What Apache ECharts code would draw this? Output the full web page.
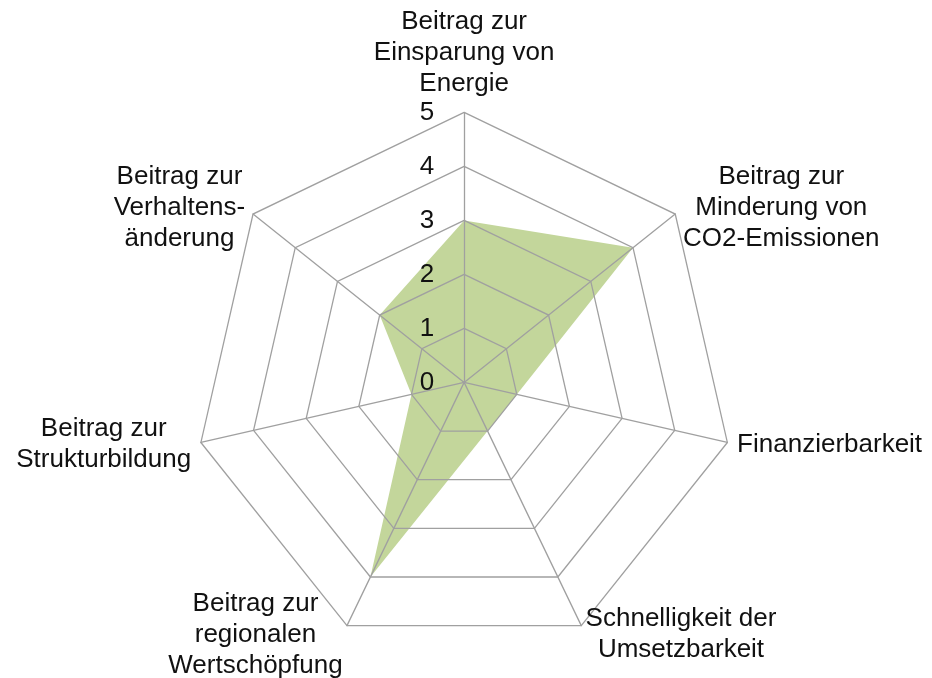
<!DOCTYPE html>
<html>
<head>
<meta charset="utf-8">
<script src="https://cdn.jsdelivr.net/npm/echarts@6/dist/echarts.min.js"></script>
<style>
  html, body { margin: 0; padding: 0; background: #ffffff; }
  #chart { width: 932px; height: 678px; }
</style>
</head>
<body>
<div id="chart"></div>
<script>
// Criteria, listed counter-clockwise from the top axis (ECharts radar order)
const criteria = [
  'Beitrag zur\nEinsparung von\nEnergie',
  'Beitrag zur\nVerhaltens-\nänderung',
  'Beitrag zur\nStrukturbildung',
  'Beitrag zur\nregionalen\nWertschöpfung',
  'Schnelligkeit der\nUmsetzbarkeit',
  'Finanzierbarkeit',
  'Beitrag zur\nMinderung von\nCO2-Emissionen'
];
// Rating of the measure on each criterion (0–5)
const ratings = [3, 2, 1, 4, 1, 1, 4];
const scaleMax = 5;
const scaleSteps = 5;

const font = 'Liberation Sans, Arial, sans-serif';
const textColor = '#111111';
const gridColor = '#a0a0a0';

const indicator = criteria.map((name, i) => {
  const ind = { name: name, min: 0, max: scaleMax };
  if (i === 0) {
    // value labels 0..5 only along the first (top) axis
    ind.axisLabel = {
      show: true,
      color: textColor,
      fontSize: 26,
      fontFamily: font,
      margin: 30
    };
  }
  return ind;
});

const chart = echarts.init(document.getElementById('chart'));
chart.setOption({
  backgroundColor: '#ffffff',
  animation: false,
  radar: {
    z: 3, // grid and value labels drawn over the filled area
    center: ['49.8%', '56.4%'],
    radius: 270,
    startAngle: 90,
    splitNumber: scaleSteps,
    shape: 'polygon',
    indicator: indicator,
    nameGap: 10,
    axisName: {
      color: textColor,
      fontSize: 26,
      fontFamily: font,
      lineHeight: 31,
      formatter: v => v.split('\n').map(l => '{c|' + l + '}').join('\n'),
      rich: {
        c: { align: 'center', fontSize: 26, fontFamily: font, lineHeight: 31, color: textColor }
      }
    },
    axisLine: { lineStyle: { color: gridColor, width: 1.3 } },
    splitLine: { lineStyle: { color: gridColor, width: 1.3 } },
    splitArea: { show: false },
    axisTick: { show: false },
    axisLabel: { show: false }
  },
  series: [{
    type: 'radar',
    z: 2,
    symbol: 'none',
    lineStyle: { width: 0, opacity: 0 },
    areaStyle: { color: '#c3d69b', opacity: 1 },
    data: [{ value: ratings, name: 'Bewertung' }]
  }]
});
</script>
</body>
</html>
